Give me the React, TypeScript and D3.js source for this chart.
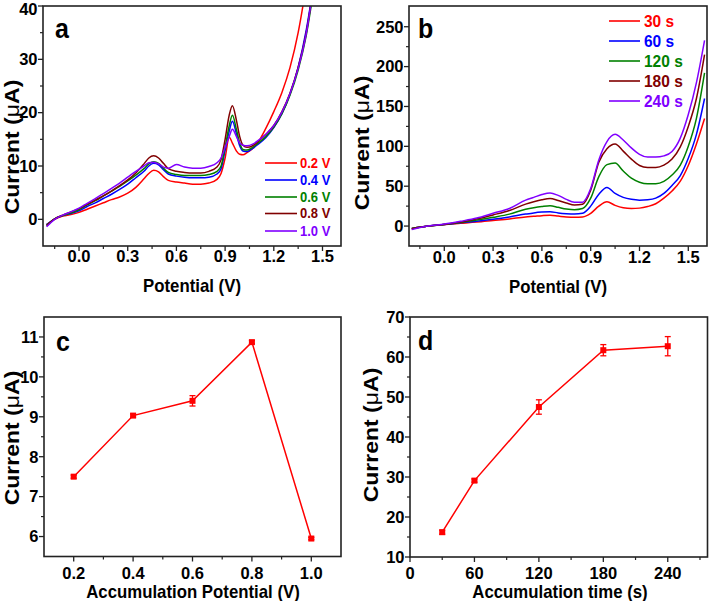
import React from 'react';
import * as d3 from 'd3';

const W = 709;
const H = 601;
const FONT = '"Liberation Sans", Arial, Helvetica, sans-serif';
const SY = 1.12;

const seriesColors = ['#ff0000', '#0000ff', '#008000', '#800000', '#8000ff'];

// ---------- Panel a: DPV at different accumulation potentials ----------
const potentialA = [-0.2, -0.15, -0.1, -0.05, 0, 0.05, 0.1, 0.15, 0.2, 0.25, 0.3, 0.35, 0.4, 0.43, 0.46, 0.49, 0.52, 0.55, 0.6, 0.65, 0.7, 0.75, 0.8, 0.85, 0.875, 0.9, 0.925, 0.945, 0.97, 0.99, 1.01, 1.035, 1.07, 1.1, 1.15, 1.2, 1.25, 1.3, 1.35, 1.4, 1.45];
const currentA_02 = [-1.0, 0.0, 0.6, 0.9, 1.3, 1.9, 2.5, 3.1, 3.7, 4.2, 4.9, 6.0, 7.6, 8.6, 9.2, 8.9, 8.0, 7.3, 7.0, 6.8, 6.6, 6.6, 6.8, 7.5, 8.6, 11.5, 15.4, 14.3, 12.8, 12.2, 12.1, 12.5, 13.3, 14.3, 17.0, 20.2, 23.8, 28.5, 35.0, 44.0, 55.0];
const currentA_04 = [-1.0, 0.1, 0.7, 1.1, 1.6, 2.4, 3.1, 3.9, 4.7, 5.6, 6.6, 7.8, 9.0, 10.0, 10.5, 10.2, 9.3, 8.5, 8.1, 7.9, 7.8, 7.8, 7.9, 8.5, 9.5, 13.0, 16.5, 18.4, 16.0, 13.8, 12.8, 12.7, 13.3, 14.0, 15.3, 17.2, 19.8, 23.5, 28.5, 35.5, 45.0];
const currentA_06 = [-1.1, 0.1, 0.7, 1.2, 1.8, 2.7, 3.5, 4.4, 5.3, 6.2, 7.2, 8.3, 9.5, 10.4, 10.8, 10.5, 9.6, 8.8, 8.4, 8.2, 8.2, 8.2, 8.4, 9.0, 10.0, 13.5, 17.5, 19.5, 16.8, 14.3, 13.1, 13.0, 13.5, 14.2, 15.5, 17.3, 19.8, 23.3, 28.0, 34.5, 44.0];
const currentA_08 = [-1.2, 0.1, 0.8, 1.4, 2.0, 2.8, 3.6, 4.4, 5.3, 6.3, 7.4, 8.7, 10.4, 11.5, 11.9, 11.5, 10.5, 9.5, 9.0, 8.8, 8.7, 8.7, 9.0, 9.8, 11.2, 15.0, 19.5, 21.3, 18.5, 15.5, 13.9, 13.5, 13.8, 14.5, 15.9, 17.6, 20.2, 23.7, 28.5, 35.0, 45.0];
const currentA_10 = [-1.4, 0.0, 0.8, 1.4, 2.1, 3.0, 3.9, 4.8, 5.8, 6.8, 7.9, 9.0, 10.0, 10.6, 10.7, 10.4, 9.8, 9.6, 10.3, 9.8, 9.6, 9.6, 9.9, 10.6, 11.5, 13.5, 15.5, 16.9, 15.5, 14.3, 13.9, 13.8, 14.1, 14.7, 15.9, 17.6, 20.1, 23.6, 28.3, 34.8, 45.0];
const legendA = ['0.2 V', '0.4 V', '0.6 V', '0.8 V', '1.0 V'];

// ---------- Panel b: DPV at different accumulation times ----------
const potentialB = [-0.2, -0.1, 0, 0.1, 0.2, 0.3, 0.4, 0.5, 0.55, 0.6, 0.65, 0.7, 0.75, 0.8, 0.85, 0.9, 0.95, 1.0, 1.05, 1.1, 1.15, 1.2, 1.25, 1.3, 1.35, 1.4, 1.45, 1.5, 1.55, 1.6];
const currentB_30 = [-3, 0, 2, 3.5, 5, 7, 9, 11.5, 12.2, 13, 13.5, 12.5, 11.5, 11, 11.5, 16, 25, 30.5, 26, 23, 22, 22.5, 24.5, 28, 35, 44, 56, 76, 103, 135];
const currentB_60 = [-3, 0, 2, 4, 6, 8.5, 11.5, 15, 16.5, 17.5, 18, 16.5, 15.5, 15, 16, 25, 40, 48.5, 41, 36, 33.5, 32.5, 33, 35, 41, 51, 63, 85, 115, 160];
const currentB_120 = [-3, 0, 2, 4.5, 7.5, 11, 15, 21, 23, 24.5, 25.5, 23.5, 21.5, 20.5, 22, 35, 62, 77, 79, 69, 60, 55, 53, 53, 56, 64, 76, 100, 135, 192];
const currentB_180 = [-3.5, 0, 2, 5, 9, 14, 19.5, 27.5, 30.5, 33, 34.5, 32, 29, 26.5, 27.5, 45, 80, 97, 103, 94, 84, 76, 73.5, 73.5, 76.5, 84, 99, 125, 160, 215];
const currentB_240 = [-4.5, 0, 2.5, 6, 10, 16, 22, 32.5, 36, 39.5, 41.5, 38.5, 33.5, 30, 30, 47, 83, 106, 115, 108, 98, 90, 86.5, 86.5, 88, 93.5, 110, 140, 180, 233];
const legendB = ['30 s', '60 s', '120 s', '180 s', '240 s'];

// ---------- Panel c ----------
const accPotential = [0.2, 0.4, 0.6, 0.8, 1.0];
const currentC = [7.5, 9.03, 9.4, 10.87, 5.95];
const errorC = [0.04, 0.04, 0.13, 0.04, 0.03];

// ---------- Panel d ----------
const accTime = [30, 60, 120, 180, 240];
const currentD = [16.2, 29.1, 47.5, 61.7, 62.7];
const errorD = [0.5, 0.4, 1.8, 1.4, 2.4];

// ---------- ticks ----------
const xTicksAB = [0, 0.3, 0.6, 0.9, 1.2, 1.5];
const xMinorAB = [-0.15, 0.15, 0.45, 0.75, 1.05, 1.35];
const yTicksA = [0, 10, 20, 30, 40];
const yMinorA = [5, 15, 25, 35];
const yTicksB = [0, 50, 100, 150, 200, 250];
const yMinorB = [25, 75, 125, 175, 225];
const xTicksC = [0.2, 0.4, 0.6, 0.8, 1.0];
const xMinorC = [0.3, 0.5, 0.7, 0.9];
const yTicksC = [6, 7, 8, 9, 10, 11];
const yMinorC = [6.5, 7.5, 8.5, 9.5, 10.5];
const xTicksD = [0, 60, 120, 180, 240];
const xMinorD = [30, 90, 150, 210, 270];
const yTicksD = [10, 20, 30, 40, 50, 60, 70];
const yMinorD = [15, 25, 35, 45, 55, 65];

function T({ x, y, size, anchor = 'start', fill = '#000', rot = false, sy = SY, weight = 'bold', children }: any) {
  return (
    <text
      transform={`translate(${x},${y}) scale(1,${sy})${rot ? ' rotate(-90)' : ''}`}
      fontSize={size}
      fontFamily={FONT}
      fontWeight={weight}
      textAnchor={anchor}
      fill={fill}
    >
      {children}
    </text>
  );
}

function Axes({ x, y, xTicks, xMinor, yTicks, yMinor, xFmt, yFmt, xLabelBase, xTitle, xTitleX, xTitleY, yTitleX, yTitleY, letter, letterX, letterY }: any) {
  const [x0, x1] = x.range();
  const [y0, y1] = y.range(); // y0 bottom, y1 top
  return (
    <g>
      <rect x={x0} y={y1} width={x1 - x0} height={y0 - y1} fill="none" stroke="#222" strokeWidth={1.6} />
      {xTicks.map((t: number) => (
        <g key={'xt' + t}>
          <line x1={x(t)} x2={x(t)} y1={y0} y2={y0 + 5} stroke="#222" strokeWidth={1.3} />
          <T x={x(t)} y={xLabelBase} size={16.5} sy={1} anchor="middle">{xFmt(t)}</T>
        </g>
      ))}
      {xMinor.map((t: number) => (
        <line key={'xm' + t} x1={x(t)} x2={x(t)} y1={y0} y2={y0 + 3} stroke="#222" strokeWidth={1.2} />
      ))}
      {yTicks.map((t: number) => (
        <g key={'yt' + t}>
          <line x1={x0 - 5} x2={x0} y1={y(t)} y2={y(t)} stroke="#222" strokeWidth={1.3} />
          <T x={x0 - 5.5} y={Math.max(y(t) + 5.8, 14.5)} size={16.5} sy={1} anchor="end">{yFmt(t)}</T>
        </g>
      ))}
      {yMinor.map((t: number) => (
        <line key={'ym' + t} x1={x0 - 3} x2={x0} y1={y(t)} y2={y(t)} stroke="#222" strokeWidth={1.2} />
      ))}
      <T x={xTitleX} y={xTitleY} size={16.8} anchor="middle">{xTitle}</T>
      <T x={yTitleX} y={yTitleY} size={20} anchor="middle" rot sy={1.15}>
        Current (<tspan fontWeight="normal">μ</tspan>A)
      </T>
      <T x={letterX} y={letterY} size={25}>{letter}</T>
    </g>
  );
}

export default function App() {
  // Panel a scales
  const xA = d3.scaleLinear().domain([-0.222, 1.614]).range([43, 341]);
  const yA = d3.scaleLinear().domain([-5, 40]).range([246, 6]);
  // Panel b scales
  const xB = d3.scaleLinear().domain([-0.217, 1.615]).range([409, 707]);
  const yB = d3.scaleLinear().domain([-25, 276]).range([246, 6]);
  // Panel c
  const xC = d3.scaleLinear().domain([0.1, 1.1]).range([44, 341]);
  const yC = d3.scaleLinear().domain([5.5, 11.5]).range([556.5, 317]);
  // Panel d
  const xD = d3.scaleLinear().domain([0, 277]).range([410, 707.5]);
  const yD = d3.scaleLinear().domain([10, 70]).range([557, 317]);

  const seriesA = [currentA_02, currentA_04, currentA_06, currentA_08, currentA_10];
  const seriesB = [currentB_30, currentB_60, currentB_120, currentB_180, currentB_240];

  const lineA = d3.line<number>().x((_, i) => xA(potentialA[i])).y((d) => yA(d)).curve(d3.curveMonotoneX);
  const lineB = d3.line<number>().x((_, i) => xB(potentialB[i])).y((d) => yB(d)).curve(d3.curveMonotoneX);
  const lineC = d3.line<number>().x((_, i) => xC(accPotential[i])).y((d) => yC(d));
  const lineD = d3.line<number>().x((_, i) => xD(accTime[i])).y((d) => yD(d));

  const f1 = d3.format('.1f');
  const f0 = d3.format('d');

  const legendRowsA = [163, 180, 197, 213.5, 231];
  const legendRowsB = [21, 41, 61, 81, 101];

  return (
    <svg width={W} height={H} style={{ position: 'absolute', left: 0, top: 0, background: '#fff' }}>
      <defs>
        <clipPath id="clipA"><rect x={43} y={6} width={298} height={240} /></clipPath>
        <clipPath id="clipB"><rect x={409} y={6} width={298} height={240} /></clipPath>
      </defs>
      <rect x={0} y={0} width={W} height={H} fill="#fff" />

      {/* Panel a */}
      <g clipPath="url(#clipA)">
        {seriesA.map((s, i) => (
          <path key={'a' + i} d={lineA(s) || ''} fill="none" stroke={seriesColors[i]} strokeWidth={1.5} />
        ))}
      </g>
      <Axes x={xA} y={yA} xTicks={xTicksAB} xMinor={xMinorAB} yTicks={yTicksA} yMinor={yMinorA}
        xFmt={f1} yFmt={f0} xLabelBase={262} xTitle="Potential (V)" xTitleX={192} xTitleY={292}
        yTitleX={18.5} yTitleY={147} letter="a" letterX={55} letterY={38} />
      {legendA.map((l, i) => (
        <g key={'la' + i}>
          <line x1={265} x2={297} y1={legendRowsA[i]} y2={legendRowsA[i]} stroke={seriesColors[i]} strokeWidth={1.6} />
          <T x={300} y={legendRowsA[i] + 4.5} size={13} fill={seriesColors[i]}>{l}</T>
        </g>
      ))}

      {/* Panel b */}
      <g clipPath="url(#clipB)">
        {seriesB.map((s, i) => (
          <path key={'b' + i} d={lineB(s) || ''} fill="none" stroke={seriesColors[i]} strokeWidth={1.5} />
        ))}
      </g>
      <Axes x={xB} y={yB} xTicks={xTicksAB} xMinor={xMinorAB} yTicks={yTicksB} yMinor={yMinorB}
        xFmt={f1} yFmt={f0} xLabelBase={263} xTitle="Potential (V)" xTitleX={558} xTitleY={293}
        yTitleX={369} yTitleY={143} letter="b" letterX={418} letterY={38} />
      {legendB.map((l, i) => (
        <g key={'lb' + i}>
          <line x1={609} x2={640} y1={legendRowsB[i]} y2={legendRowsB[i]} stroke={seriesColors[i]} strokeWidth={1.6} />
          <T x={644} y={legendRowsB[i] + 5.5} size={15.5} fill={seriesColors[i]}>{l}</T>
        </g>
      ))}

      {/* Panel c */}
      <Axes x={xC} y={yC} xTicks={xTicksC} xMinor={xMinorC} yTicks={yTicksC} yMinor={yMinorC}
        xFmt={f1} yFmt={f0} xLabelBase={579} xTitle="Accumulation Potential (V)" xTitleX={193} xTitleY={597.5}
        yTitleX={18.5} yTitleY={438} letter="c" letterX={56} letterY={351} />
      <path d={lineC(currentC) || ''} fill="none" stroke="#ff0000" strokeWidth={1.5} />
      {accPotential.map((v, i) => (
        <g key={'c' + i} stroke="#ff0000" strokeWidth={1.3}>
          <line x1={xC(v)} x2={xC(v)} y1={yC(currentC[i] - errorC[i])} y2={yC(currentC[i] + errorC[i])} />
          <line x1={xC(v) - 3} x2={xC(v) + 3} y1={yC(currentC[i] - errorC[i])} y2={yC(currentC[i] - errorC[i])} />
          <line x1={xC(v) - 3} x2={xC(v) + 3} y1={yC(currentC[i] + errorC[i])} y2={yC(currentC[i] + errorC[i])} />
          <rect x={xC(v) - 3} y={yC(currentC[i]) - 3} width={6} height={6} fill="#ff0000" stroke="none" />
        </g>
      ))}

      {/* Panel d */}
      <Axes x={xD} y={yD} xTicks={xTicksD} xMinor={xMinorD} yTicks={yTicksD} yMinor={yMinorD}
        xFmt={f0} yFmt={f0} xLabelBase={579} xTitle="Accumulation time (s)" xTitleX={560} xTitleY={597.5}
        yTitleX={378} yTitleY={435} letter="d" letterX={418} letterY={350} />
      <path d={lineD(currentD) || ''} fill="none" stroke="#ff0000" strokeWidth={1.5} />
      {accTime.map((t, i) => (
        <g key={'d' + i} stroke="#ff0000" strokeWidth={1.3}>
          <line x1={xD(t)} x2={xD(t)} y1={yD(currentD[i] - errorD[i])} y2={yD(currentD[i] + errorD[i])} />
          <line x1={xD(t) - 3} x2={xD(t) + 3} y1={yD(currentD[i] - errorD[i])} y2={yD(currentD[i] - errorD[i])} />
          <line x1={xD(t) - 3} x2={xD(t) + 3} y1={yD(currentD[i] + errorD[i])} y2={yD(currentD[i] + errorD[i])} />
          <rect x={xD(t) - 3} y={yD(currentD[i]) - 3} width={6} height={6} fill="#ff0000" stroke="none" />
        </g>
      ))}
    </svg>
  );
}
